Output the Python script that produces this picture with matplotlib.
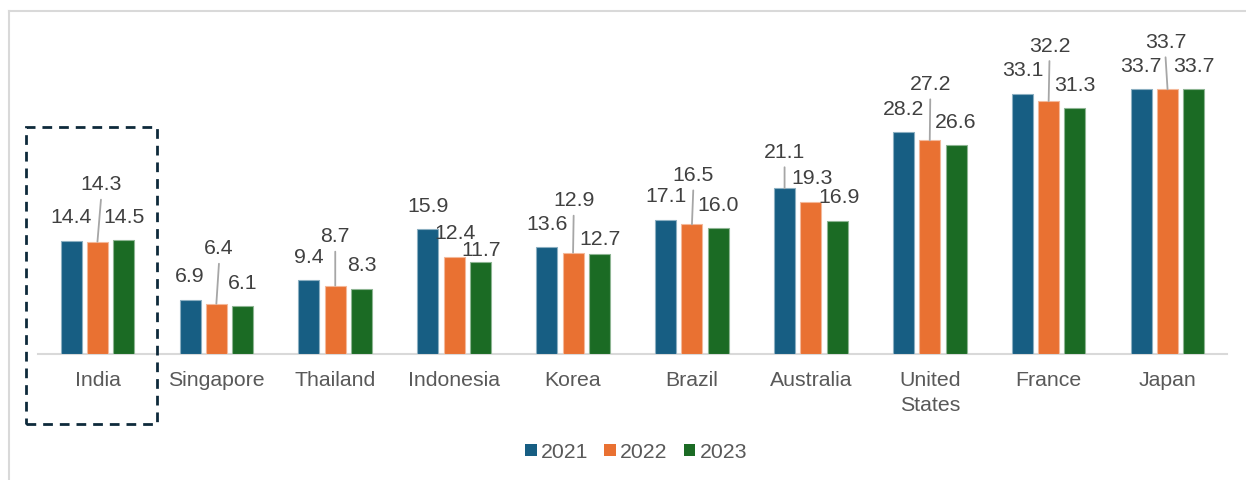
import matplotlib
matplotlib.use("Agg")
import matplotlib.pyplot as plt
import matplotlib.colors as mcolors
from matplotlib.patches import Rectangle, Patch
from matplotlib.lines import Line2D
import numpy as np

# ---- data -------------------------------------------------------------
countries = ["India", "Singapore", "Thailand", "Indonesia", "Korea",
             "Brazil", "Australia", "United\nStates", "France", "Japan"]
years = ["2021", "2022", "2023"]
v2021 = [14.4, 6.9, 9.4, 15.9, 13.6, 17.1, 21.1, 28.2, 33.1, 33.7]
v2022 = [14.3, 6.4, 8.7, 12.4, 12.9, 16.5, 19.3, 27.2, 32.2, 33.7]
v2023 = [14.5, 6.1, 8.3, 11.7, 12.7, 16.0, 16.9, 26.6, 31.3, 33.7]

# ---- style -------------------------------------------------------------
COLORS = ["#175E83", "#E97132", "#1B6B24"]
LABEL_COLOR = "#404040"
AXIS_TEXT = "#595959"
GRID_GRAY = "#D9D9D9"
LEADER = "#A6A6A6"
FS = 15.3

plt.rcParams["font.family"] = ["Liberation Sans", "DejaVu Sans"]

# label placement (pixels from bar-top centre): default is (0, 23)
# overrides keyed by (series, country) -> (dx, dy, leader)
DEFAULT_OFF = (0, 23, False)
label_moves = {
    (1, 0): (3.5, 57, True), (1, 1): (2.6, 55, True), (1, 2): (0, 49, True),
    (1, 3): (0.8, 23, False), (2, 3): (1.2, 12, False),
    (1, 4): (0.6, 52, True), (2, 4): (0.6, 15, False),
    (1, 5): (1.3, 49, True), (0, 6): (0, 36, True),
    (1, 6): (0.8, 23.5, False), (2, 6): (1.8, 23.5, False),
    (1, 7): (0.5, 56, True), (1, 8): (0.8, 55, True), (1, 9): (-2, 47, True),
}

W, H, DPI = 1246, 480, 100
fig = plt.figure(figsize=(W / DPI, H / DPI), dpi=DPI)

base_px, ymax = 354, 40.0
px_per_unit = 7.855
top_px = base_px - ymax * px_per_unit
ax = fig.add_axes([38 / W, 1 - base_px / H, (1227 - 38) / W,
                   (base_px - top_px) / H])
ax.set_xlim(-0.5, len(countries) - 0.5)
ax.set_ylim(0, ymax)

x = np.arange(len(countries))
bw, pitch = 0.177, 0.221
series = [v2021, v2022, v2023]
for i, (vals, col) in enumerate(zip(series, COLORS)):
    edge = mcolors.to_rgb(col)
    edge = tuple(0.5 * c + 0.5 for c in edge)
    xs = x + (i - 1) * pitch
    ax.bar(xs, vals, width=bw, color=col, edgecolor=edge, linewidth=0.8,
           zorder=3)
    for j, (xx, v) in enumerate(zip(xs, vals)):
        dx, dy, leader = label_moves.get((i, j), DEFAULT_OFF)
        ax.annotate(f"{v:.1f}", (xx, v), xytext=(dx, dy),
                    textcoords="offset pixels", ha="center", va="center",
                    fontsize=FS, color=LABEL_COLOR, annotation_clip=False)
        if leader:
            ax.annotate("", (xx, v), xytext=(dx, dy - 15),
                        textcoords="offset pixels", annotation_clip=False,
                        arrowprops=dict(arrowstyle="-", color=LEADER, lw=1.3,
                                        shrinkA=0, shrinkB=0))

for s in ["top", "right", "left"]:
    ax.spines[s].set_visible(False)
ax.spines["bottom"].set_color(GRID_GRAY)
ax.spines["bottom"].set_linewidth(1.5)
ax.set_yticks([])
ax.set_xticks(x)
ax.set_xticklabels(countries, fontsize=FS, color=AXIS_TEXT, linespacing=1.4)
ax.tick_params(axis="x", length=0, pad=12.5)

# legend
handles = [Patch(facecolor=c, edgecolor="none") for c in COLORS]
fig.legend(handles, years, loc="center", bbox_to_anchor=(636 / W, 1 - 452 / H),
           ncol=3, frameon=False, fontsize=FS, labelcolor=AXIS_TEXT,
           handlelength=0.55, handleheight=0.55, handletextpad=0.2,
           columnspacing=0.75)

# dashed highlight around India
fig.add_artist(Rectangle((26 / W, 1 - 424 / H), (157 - 26) / W, (424 - 127) / H,
                         transform=fig.transFigure, fill=False,
                         edgecolor="#0E2A3B", linewidth=2.0,
                         linestyle=(0, (3.5, 2.5))))

# outer light frame (top and left visible)
fig.add_artist(Line2D([9 / W, 9 / W], [0, 1 - 11 / H], transform=fig.transFigure,
                      color=GRID_GRAY, linewidth=1.5))
fig.add_artist(Line2D([9 / W, 1], [1 - 11 / H, 1 - 11 / H],
                      transform=fig.transFigure, color=GRID_GRAY, linewidth=1.5))

fig.savefig("out.png", dpi=DPI, facecolor="white")
